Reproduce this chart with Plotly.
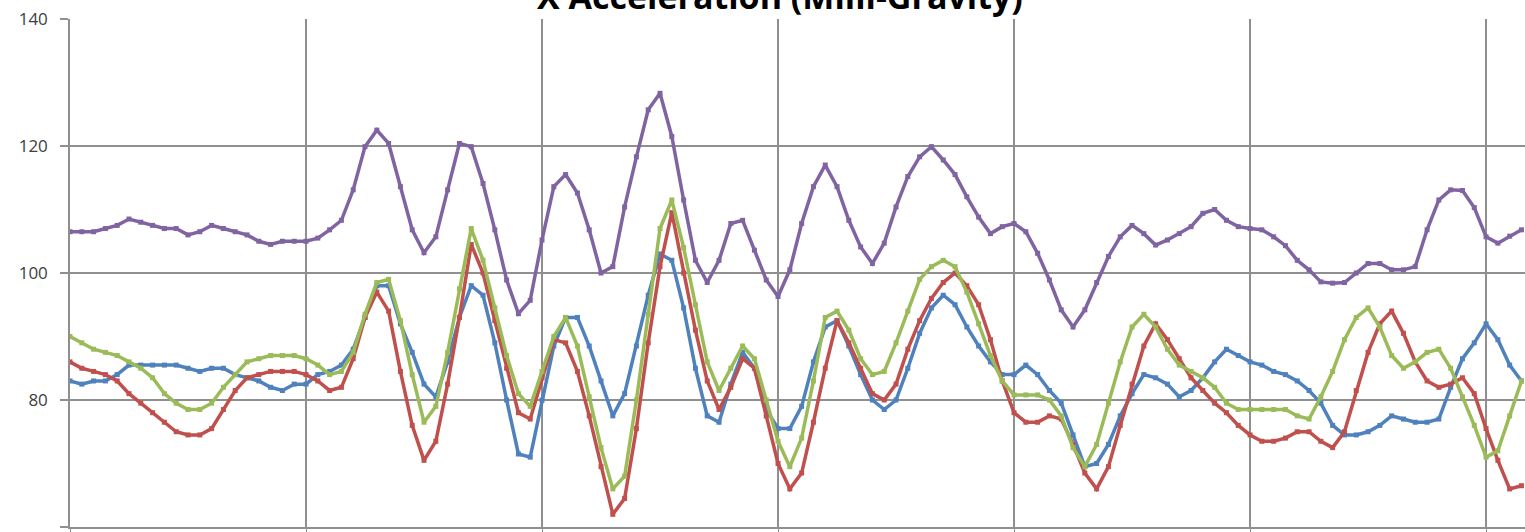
import plotly.graph_objects as go

# sample index (category axis), gridline every 20 samples
n_samples = 124
sample_idx = list(range(n_samples))

blue = [83, 82.5, 83, 83, 84, 85.5, 85.5, 85.5, 85.5, 85.5, 85, 84.5, 85, 85, 84, 83.5, 83, 82, 81.5, 82.5,
        82.5, 84, 84.5, 85.5, 88, 93, 98, 98, 92, 87.5, 82.5, 80.5, 86, 93, 98, 96.5, 89, 80, 71.5, 71,
        80, 88.5, 93, 93, 88.5, 83, 77.5, 81, 88.5, 96.5, 103, 102, 94.5, 85, 77.5, 76.5, 82.5, 87.5, 85, 78.5,
        75.5, 75.5, 79, 86, 91.5, 92.5, 88.5, 84, 80, 78.5, 80, 85, 90.5, 94.5, 96.5, 95, 91.5, 88.5, 86, 84,
        84, 85.5, 84, 81.5, 79.5, 74.5, 69.5, 70, 73, 77.5, 81, 84, 83.5, 82.5, 80.5, 81.5, 83.5, 86, 88, 87,
        86, 85.5, 84.5, 84, 83, 81.5, 79.5, 76, 74.5, 74.5, 75, 76, 77.5, 77, 76.5, 76.5, 77, 82, 86.5, 89,
        92, 89.5, 85.5, 83]

red = [86, 85, 84.5, 84, 83, 81, 79.5, 78, 76.5, 75, 74.5, 74.5, 75.5, 78.5, 81.5, 83.5, 84, 84.5, 84.5, 84.5,
       84, 83, 81.5, 82, 86.5, 93, 97, 94, 84.5, 76, 70.5, 73.5, 82.5, 93, 104.5, 100, 92.5, 85, 78, 77,
       83.5, 89.5, 89, 84.5, 77.5, 69.5, 62, 64.5, 75.5, 89, 101, 109.5, 100, 91, 83, 78.5, 82, 86.5, 85, 77.5,
       70, 66, 68.5, 76.5, 85, 92.5, 89, 85, 81, 80, 82.5, 88, 92.5, 96, 98.5, 100, 98, 95, 89.5, 83,
       78, 76.5, 76.5, 77.5, 77, 73, 68.5, 66, 69.5, 76, 82.5, 88.5, 92, 89.5, 86.5, 83.5, 81.5, 79.5, 78, 76,
       74.5, 73.5, 73.5, 74, 75, 75, 73.5, 72.5, 75, 81.5, 87.5, 92, 94, 90.5, 86, 83, 82, 82.5, 83.5, 81,
       75.5, 70.5, 66, 66.5]

green = [90, 89, 88, 87.5, 87, 86, 85, 83.5, 81, 79.5, 78.5, 78.5, 79.5, 82, 84, 86, 86.5, 87, 87, 87,
         86.5, 85.5, 84, 84.5, 87.5, 93.5, 98.5, 99, 92.5, 84, 76.5, 79, 87.5, 97.5, 107, 102, 94.5, 87, 81, 79,
         84.5, 90, 93, 88.5, 80.5, 72.5, 66, 68, 80, 93.5, 107, 111.5, 104, 95, 86, 81.5, 85, 88.5, 86.5, 80,
         73.5, 69.5, 74, 83, 93, 94, 91, 86.5, 84, 84.5, 89, 94, 99, 101, 102, 101, 97, 92, 87, 83,
         80.8, 80.8, 80.8, 80, 77.5, 72.5, 69.5, 73, 79.5, 86, 91.5, 93.5, 91.5, 88, 85.5, 84.5, 83.5, 82, 79.5, 78.5,
         78.5, 78.5, 78.5, 78.5, 77.5, 77, 80.5, 84.5, 89.5, 93, 94.5, 91.5, 87, 85, 86, 87.5, 88, 85, 80.5, 76,
         71, 72, 77.5, 83]

purple = [106.5, 106.5, 106.5, 107, 107.5, 108.5, 108, 107.5, 107, 107, 106, 106.5, 107.5, 107, 106.5, 106, 105, 104.5, 105, 105,
          105, 105.5, 106.8, 108.3, 113.1, 119.9, 122.5, 120.4, 113.6, 106.8, 103.2, 105.7, 113.1, 120.4, 119.9, 114.1, 106.8, 98.9, 93.6, 95.7,
          105.2, 113.6, 115.5, 112.6, 106.8, 100, 101, 110.4, 118.3, 125.7, 128.3, 121.5, 111.5, 102, 98.5, 102, 107.8, 108.3, 103.6, 98.9,
          96.3, 100.5, 107.8, 113.6, 117, 113.6, 108.3, 104.1, 101.5, 104.7, 110.4, 115.2, 118.3, 119.9, 117.8, 115.5, 112, 108.8, 106.2, 107.3,
          107.8, 106.5, 103.1, 98.9, 94.2, 91.5, 94.2, 98.5, 102.6, 105.7, 107.5, 106.2, 104.4, 105.2, 106.2, 107.3, 109.4, 110, 108.3, 107.3,
          107, 106.8, 105.7, 104.3, 102, 100.5, 98.6, 98.4, 98.5, 100, 101.5, 101.5, 100.5, 100.5, 101, 106.8, 111.5, 113.1, 113, 110.3,
          105.7, 104.7, 105.8, 106.8]

y_ticks = [60, 80, 100, 120, 140]
title_text = "X Acceleration (Milli-Gravity)"

series = [
    ("Series1", blue, "#4F81BD"),
    ("Series2", red, "#C0504D"),
    ("Series3", green, "#9BBB59"),
    ("Series4", purple, "#8064A2"),
]

fig = go.Figure()
for name, vals, col in series:
    fig.add_trace(go.Scatter(
        x=sample_idx, y=vals, name=name, mode="lines+markers",
        line=dict(color=col, width=3.5),
        marker=dict(color=col, size=5, symbol="square"),
        showlegend=False,
    ))

grid_col = "#8f8f8f"
fig.update_layout(
    width=1525, height=532,
    margin=dict(l=70, r=0, t=19, b=5),
    paper_bgcolor="white", plot_bgcolor="white",
    xaxis=dict(range=[0, 123.3], dtick=20, tick0=0, showgrid=True, gridcolor=grid_col, gridwidth=1.5,
               showticklabels=False, zeroline=False, showline=True, linecolor=grid_col, linewidth=1.5,
               ticks="outside", ticklen=5, tickcolor=grid_col),
    yaxis=dict(range=[60, 140], tickvals=y_ticks, showgrid=True, gridcolor=grid_col, gridwidth=1.5,
               zeroline=False, showline=True, linecolor=grid_col, linewidth=1.5,
               ticks="outside", ticklen=8, tickcolor=grid_col, tickwidth=1.5,
               ticklabelstandoff=9,
               tickfont=dict(family="Open Sans", size=17, color="#404040")),
    annotations=[dict(text="<b>" + title_text + "</b>", xref="paper", yref="paper",
                      x=0.488, y=0.996, xanchor="center", yanchor="bottom", showarrow=False,
                      font=dict(family="Open Sans", size=34, color="#000000"))],
)

fig.write_html("out.html", config={"displayModeBar": False},
               post_script="document.body.style.margin='0';document.body.style.overflow='hidden';")
